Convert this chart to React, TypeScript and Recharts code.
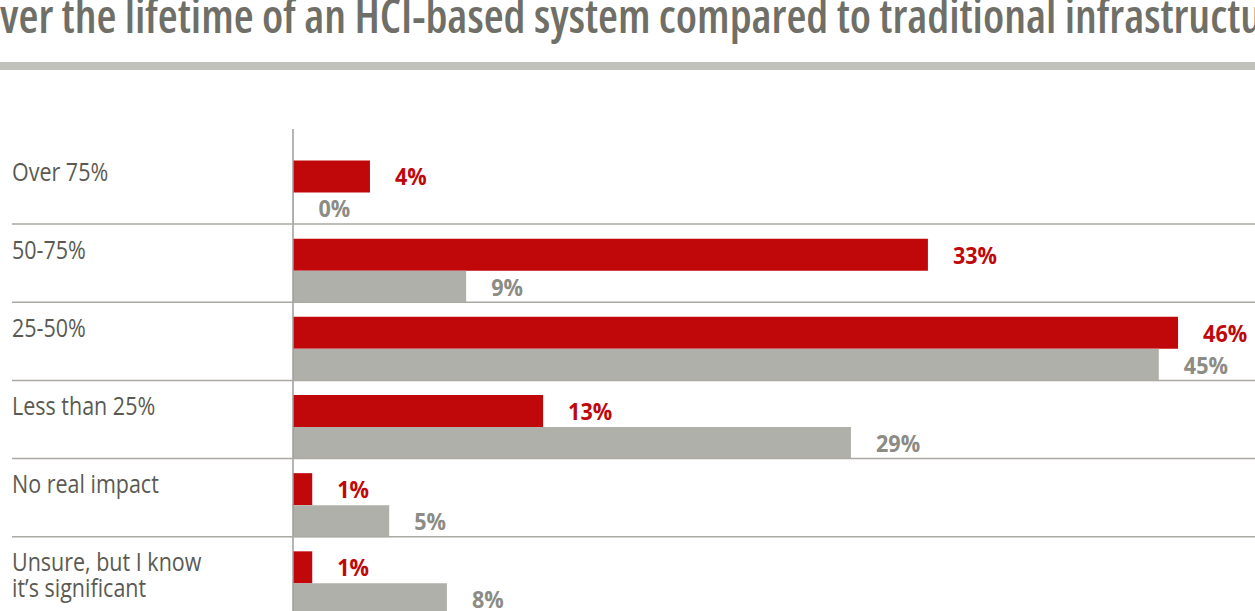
import React from "react";
import { BarChart, Bar, XAxis, YAxis, LabelList } from "recharts";

const categories = [
  "Over 75%",
  "50-75%",
  "25-50%",
  "Less than 25%",
  "No real impact",
  "Unsure, but I know\nit’s significant",
];
const redValues = [4, 33, 46, 13, 1, 1];
const grayValues = [0, 9, 45, 29, 5, 8];
const titleText =
  "ver the lifetime of an HCI-based system compared to traditional infrastructu";

const data = categories.map((c, i) => ({
  category: c,
  red: redValues[i],
  gray: grayValues[i],
}));

const FONT = "'Open Sans', 'Noto Sans', sans-serif";

const CategoryTick = (props: any) => {
  const { y, payload, index } = props;
  const lines = String(payload.value).split("\n");
  return (
    <g>
      <g transform={`translate(12, ${y - 11.5}) scale(0.86, 1)`}>
        <text x={0} y={0} fill="#5a5a52" fontSize={25} fontFamily={FONT}>
          {lines.map((l: string, i: number) => (
            <tspan key={i} x={0} dy={i === 0 ? 0 : 26}>
              {l}
            </tspan>
          ))}
        </text>
      </g>
      {index < categories.length - 1 && (
        <line x1={12} x2={1255} y1={y + 32} y2={y + 32} stroke="#aaa9a2" strokeWidth={1.5} />
      )}
    </g>
  );
};

const makeValueLabel = (color: string) => (props: any) => {
  const { x, y, width, height, value } = props;
  const lx = Number(x) + Number(width) + 25;
  const ly = Number(y) + Number(height) / 2;
  return (
    <g transform={`translate(${lx}, ${ly}) scale(0.9, 1)`}>
      <text
        x={0}
        y={0}
        dominantBaseline="central"
        fill={color}
        fontSize={24}
        fontWeight={700}
        fontFamily={FONT}
      >
        {`${value}%`}
      </text>
    </g>
  );
};

const RedLabel = makeValueLabel("#c0080b");
const GrayLabel = makeValueLabel("#8c8c85");

export default function App() {
  return (
    <div
      style={{
        position: "fixed",
        left: 0,
        top: 0,
        width: 1255,
        height: 611,
        overflow: "hidden",
        background: "#fff",
      }}
    >
      <style>{`body{margin:0;overflow:hidden}`}</style>
      <svg width={1255} height={80} style={{ position: "absolute", left: 0, top: 0 }}>
        <text
          x={0}
          y={33}
          fill="#6f6f67"
          fontSize={46}
          fontWeight={600}
          fontFamily={FONT}
          textLength={1262}
          lengthAdjust="spacingAndGlyphs"
          style={{ fontStretch: "condensed" }}
        >
          {titleText}
        </text>
        <rect x={0} y={62} width={1255} height={8} fill="#c2c2bc" />
      </svg>
      <div style={{ position: "absolute", left: 0, top: 0 }}>
        <BarChart
          width={1255}
          height={622}
          data={data}
          layout="vertical"
          margin={{ top: 129, right: 0, bottom: 0, left: 0 }}
          barCategoryGap={7.5}
          barGap={0}
        >
          <XAxis type="number" domain={[0, 50]} hide />
          <YAxis
            type="category"
            dataKey="category"
            width={293}
            padding={{ top: 24, bottom: 0 }}
            axisLine={{ stroke: "#9d9d97", strokeWidth: 1.5 }}
            tickLine={false}
            tick={<CategoryTick />}
            interval={0}
          />
          <Bar dataKey="red" fill="#c0080b" isAnimationActive={false} minPointSize={0.5}>
            <LabelList dataKey="red" content={RedLabel} />
          </Bar>
          <Bar dataKey="gray" fill="#b0b0aa" isAnimationActive={false} minPointSize={0.5}>
            <LabelList dataKey="gray" content={GrayLabel} />
          </Bar>
        </BarChart>
      </div>
    </div>
  );
}
